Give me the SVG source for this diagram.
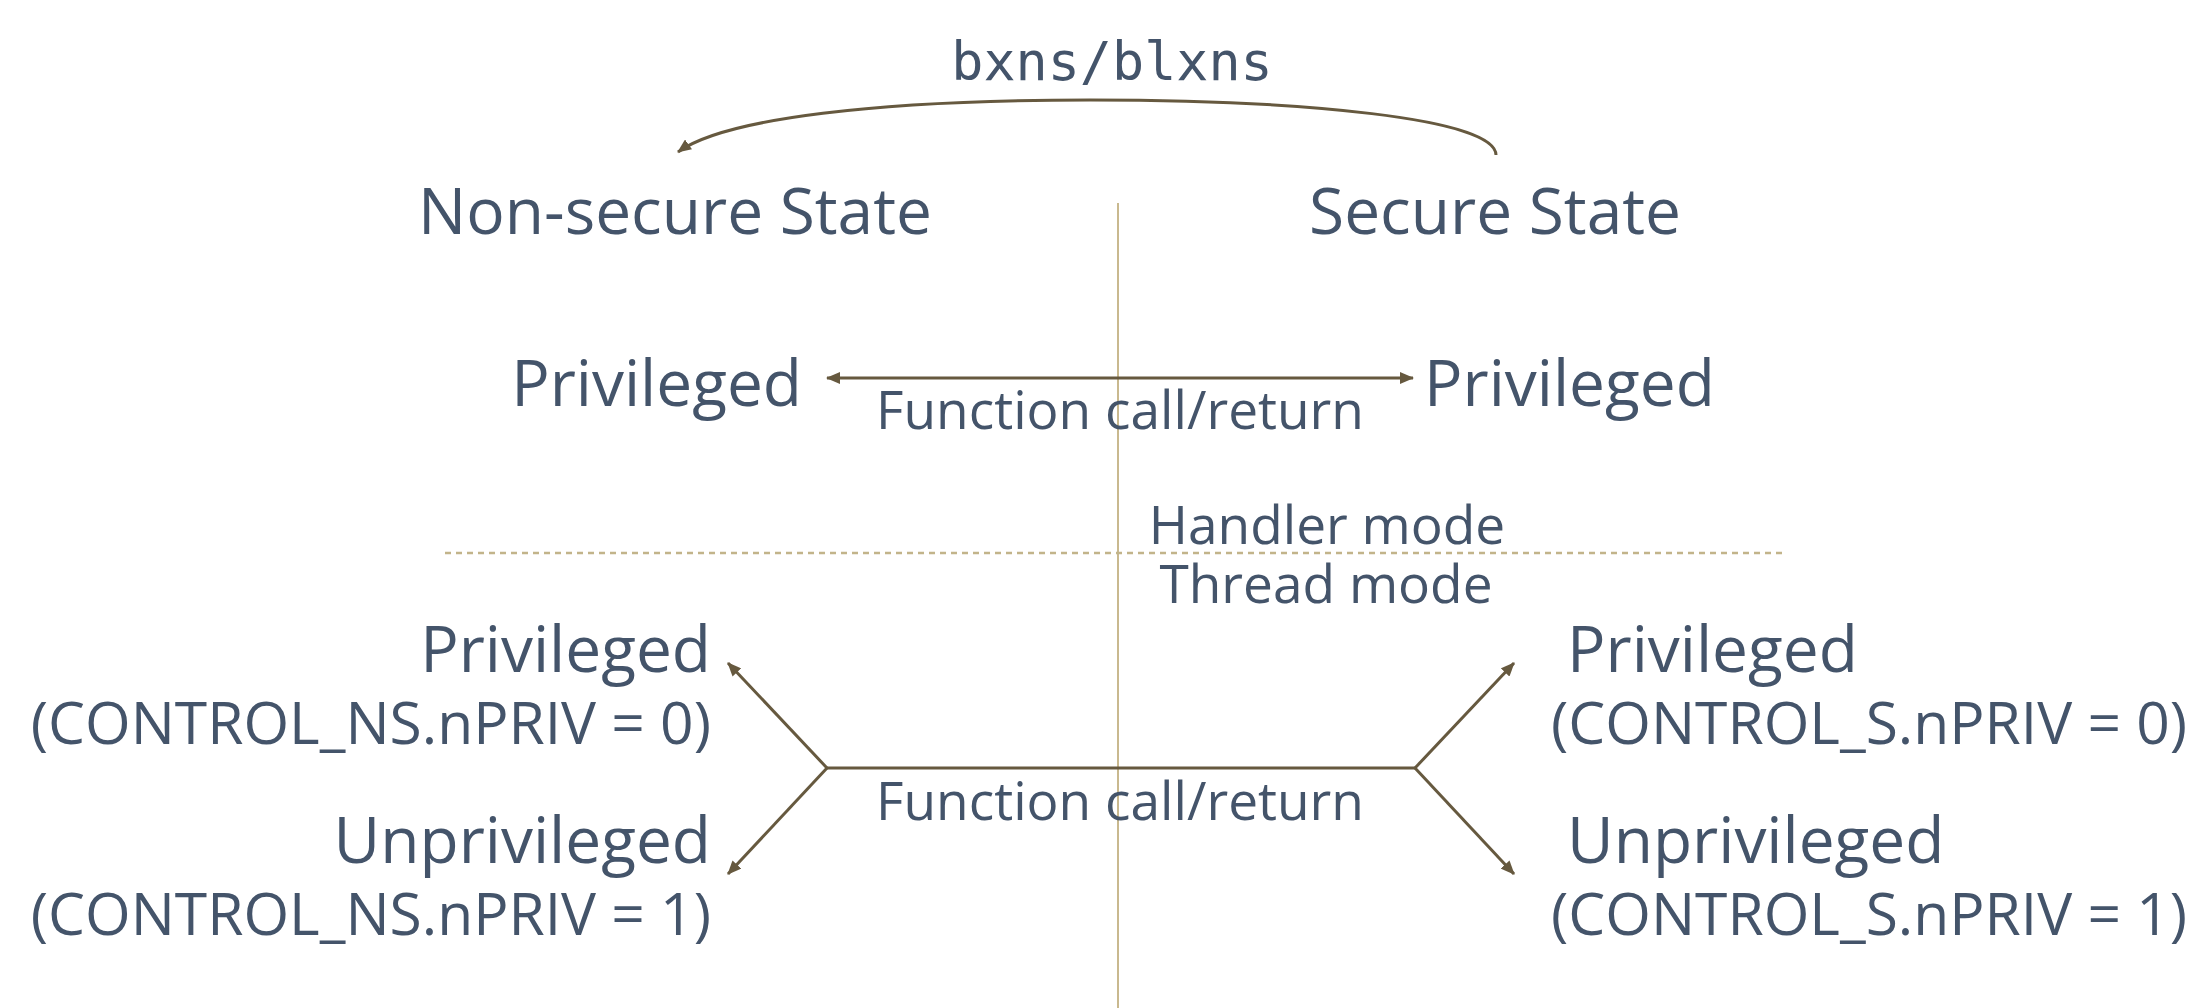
<svg xmlns="http://www.w3.org/2000/svg" width="2199" height="1008" viewBox="0 0 2199 1008">
  <style>
    .t { font-family: "Open Sans", "Noto Sans", sans-serif; fill: #44546a; }
    .big { font-size: 64px; }
    .mid { font-size: 53.2px; }
    .ctl { font-size: 58.7px; }
    .mono { font-family: "DejaVu Sans Mono", "Liberation Mono", monospace; font-size: 53.4px; fill: #44546a; }
    .conn { fill: none; stroke: #66593f; stroke-width: 3; }
    .divider { fill: none; stroke: #c9b98f; stroke-width: 2; }
    .dash { fill: none; stroke: #c2b48a; stroke-width: 2.5; stroke-dasharray: 6 5; }
  </style>
  <defs>
    <marker id="ah" viewBox="0 0 14 12" refX="13" refY="6" markerWidth="14" markerHeight="12" markerUnits="userSpaceOnUse" orient="auto-start-reverse">
      <path d="M0,0 L14,6 L0,12 Z" fill="#66593f"/>
    </marker>
  </defs>

  <g id="dividers">
    <line class="divider" x1="1118" y1="203" x2="1118" y2="1008"/>
    <line class="dash" x1="445" y1="553" x2="1786" y2="553"/>
  </g>

  <g id="connectors">
    <path class="conn" d="M1496,155 C1496,118 1300,100 1090,100 C880,100 725,118 678,152" marker-end="url(#ah)"/>
    <line class="conn" x1="827" y1="378" x2="1413" y2="378" marker-start="url(#ah)" marker-end="url(#ah)"/>
    <line class="conn" x1="827" y1="768" x2="1415" y2="768"/>
    <line class="conn" x1="827" y1="768" x2="728" y2="663" marker-end="url(#ah)"/>
    <line class="conn" x1="827" y1="768" x2="728" y2="874" marker-end="url(#ah)"/>
    <line class="conn" x1="1415" y1="768" x2="1514" y2="663" marker-end="url(#ah)"/>
    <line class="conn" x1="1415" y1="768" x2="1514" y2="874" marker-end="url(#ah)"/>
  </g>

  <g id="label-bxns"><text class="mono" x="1112" y="80" text-anchor="middle">bxns/blxns</text></g>
  <g id="ns-state"><text class="t big" x="675" y="234" text-anchor="middle">Non-secure State</text></g>
  <g id="s-state"><text class="t big" x="1495" y="234" text-anchor="middle">Secure State</text></g>

  <g id="ns-handler-priv"><text class="t big" x="802" y="406" text-anchor="end">Privileged</text></g>
  <g id="s-handler-priv"><text class="t big" x="1424" y="406">Privileged</text></g>
  <g id="label-fc-top"><text class="t mid" x="1120" y="429" text-anchor="middle">Function call/return</text></g>

  <g id="label-handler"><text class="t mid" x="1327" y="544" text-anchor="middle">Handler mode</text></g>
  <g id="label-thread"><text class="t mid" x="1326" y="603" text-anchor="middle">Thread mode</text></g>

  <g id="ns-thread-priv">
    <text class="t big" x="711" y="672" text-anchor="end">Privileged</text>
    <text class="t ctl" x="711" y="744" text-anchor="end">(CONTROL_NS.nPRIV = 0)</text>
  </g>
  <g id="ns-thread-unpriv">
    <text class="t big" x="711" y="863" text-anchor="end">Unprivileged</text>
    <text class="t ctl" x="711" y="935" text-anchor="end">(CONTROL_NS.nPRIV = 1)</text>
  </g>
  <g id="s-thread-priv">
    <text class="t big" x="1567" y="672">Privileged</text>
    <text class="t ctl" x="1551" y="744">(CONTROL_S.nPRIV = 0)</text>
  </g>
  <g id="s-thread-unpriv">
    <text class="t big" x="1567" y="863">Unprivileged</text>
    <text class="t ctl" x="1551" y="935">(CONTROL_S.nPRIV = 1)</text>
  </g>
  <g id="label-fc-bottom"><text class="t mid" x="1120" y="820" text-anchor="middle">Function call/return</text></g>
</svg>
